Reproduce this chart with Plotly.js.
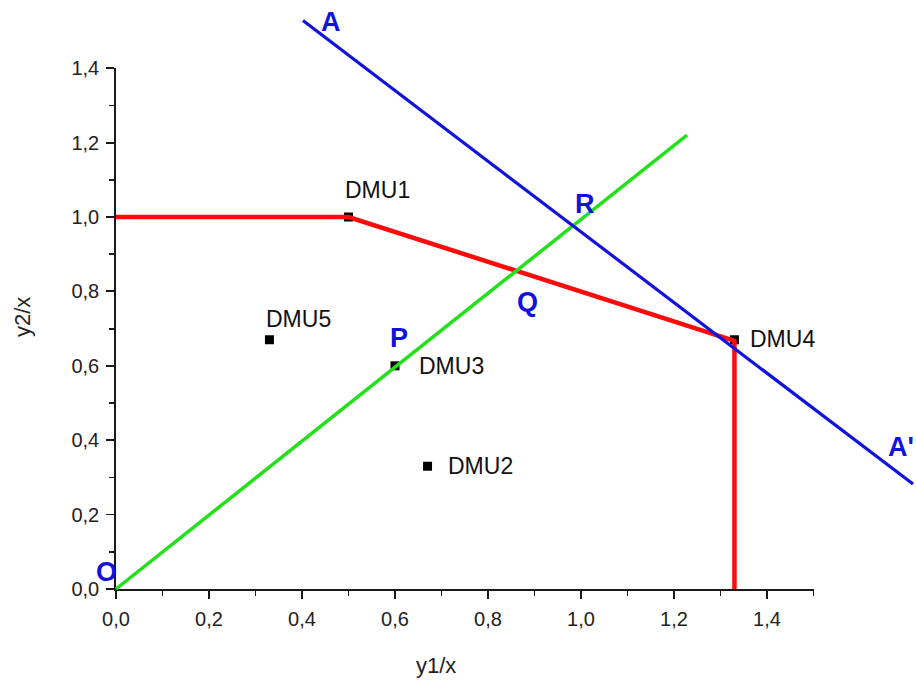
<!DOCTYPE html>
<html>
<head>
<meta charset="utf-8">
<script src="https://cdn.plot.ly/plotly-3.0.1.min.js"></script>
<style>html,body{margin:0;padding:0;background:#fff;}#chart{width:916px;height:681px;}</style>
</head>
<body>
<div id="chart"></div>
<script>
// DMU points
const dmuNames = ["DMU1", "DMU2", "DMU3", "DMU4", "DMU5"];
const dmuX = [0.5, 0.67, 0.6, 1.33, 0.33];
const dmuY = [1.0, 0.33, 0.6, 0.67, 0.67];

// Efficient frontier (red)
const frontierX = [0, 0.5, 1.33, 1.33];
const frontierY = [1.0, 1.0, 0.667, 0];

// Ray from origin (green)
const rayX = [0, 1.228];
const rayY = [0, 1.22];

// Line A-A' (blue)
const lineAX = [0.402, 1.714];
const lineAY = [1.528, 0.282];

// Point labels
const ptLabels = ["A", "R", "Q", "P", "O"];
const ptLabelX = [0.462, 1.008, 0.885, 0.608, -0.02];
const ptLabelY = [1.525, 1.035, 0.772, 0.676, 0.045];

// Tick values
const tickVals = [0, 0.2, 0.4, 0.6, 0.8, 1.0, 1.2, 1.4];
const tickText = ["0,0", "0,2", "0,4", "0,6", "0,8", "1,0", "1,2", "1,4"];

const W = 916, H = 681;
const x0px = 116, sx = 465, y0px = 589, sy = 372;
const xFull = [-x0px / sx, (W - x0px) / sx];
const yFull = [(y0px - H) / sy, y0px / sy];

const fontFam = "Liberation Sans, Arial, sans-serif";
const blue = "#1212de";

const traces = [
  {
    x: dmuX, y: dmuY, type: "scatter", mode: "markers",
    marker: {symbol: "square", size: 9, color: "#000"},
    cliponaxis: false, xaxis: "x", yaxis: "y", hoverinfo: "none"
  },
  {
    x: frontierX, y: frontierY, type: "scatter", mode: "lines",
    line: {color: "#ff0a0a", width: 4.5}, xaxis: "x2", yaxis: "y2", hoverinfo: "none"
  },
  {
    x: rayX, y: rayY, type: "scatter", mode: "lines",
    line: {color: "#22e01a", width: 3.5}, xaxis: "x2", yaxis: "y2", hoverinfo: "none"
  },
  {
    x: lineAX, y: lineAY, type: "scatter", mode: "lines",
    line: {color: blue, width: 3.2}, xaxis: "x2", yaxis: "y2", hoverinfo: "none"
  }
];

const dmuShift = {
  DMU1: [-6, 27], DMU2: [18, 0], DMU3: [22, 0], DMU4: [14, 1], DMU5: [-5, 21]
};
const annotations = [];
dmuNames.forEach((n, i) => {
  annotations.push({
    x: dmuX[i], y: dmuY[i], xref: "x", yref: "y", text: n, showarrow: false,
    xanchor: "left", yanchor: "middle", xshift: dmuShift[n][0], yshift: dmuShift[n][1],
    font: {family: fontFam, size: 23, color: "#111"}
  });
});
ptLabels.forEach((t, i) => {
  annotations.push({
    x: ptLabelX[i], y: ptLabelY[i], xref: "x2", yref: "y2", text: "<b>" + t + "</b>",
    showarrow: false, xanchor: "center", yanchor: "middle",
    font: {family: fontFam, size: 27, color: blue}
  });
});
annotations.push({
  x: 1, y: 1 - 447 / H, xref: "paper", yref: "paper", text: "<b>A'</b>",
  showarrow: false, xanchor: "right", yanchor: "middle",
  font: {family: fontFam, size: 27, color: blue}
});
annotations.push({
  x: 436 / W, y: 1 - 665 / H, xref: "paper", yref: "paper", text: "y1/x",
  showarrow: false, xanchor: "center", yanchor: "middle",
  font: {family: fontFam, size: 22, color: "#222"}
});
annotations.push({
  x: 22 / W, y: 1 - 317 / H, xref: "paper", yref: "paper", text: "y2/x",
  showarrow: false, xanchor: "center", yanchor: "middle", textangle: -90,
  font: {family: fontFam, size: 22, color: "#222"}
});

const axisCommon = {
  showgrid: false, zeroline: false, showline: true, linecolor: "#1a1a1a", linewidth: 1.8,
  ticks: "outside", ticklen: 8, tickwidth: 1.8, tickcolor: "#1a1a1a",
  tickvals: tickVals, ticktext: tickText, ticklabelstandoff: 3,
  tickfont: {family: fontFam, size: 20, color: "#222"},
  minor: {ticks: "outside", ticklen: 5, tickwidth: 1.8, tickcolor: "#1a1a1a", dtick: 0.1, tick0: 0, showgrid: false},
  fixedrange: true
};

const layout = {
  width: W, height: H,
  margin: {l: 0, r: 0, t: 0, b: 0, pad: 0},
  paper_bgcolor: "#fff", plot_bgcolor: "rgba(0,0,0,0)",
  showlegend: false,
  xaxis: Object.assign({}, axisCommon, {
    range: [0, 1.5], domain: [x0px / W, (x0px + 1.5 * sx) / W], anchor: "y"
  }),
  yaxis: Object.assign({}, axisCommon, {
    range: [0, 1.4], domain: [1 - y0px / H, 1 - (y0px - 1.4 * sy) / H], anchor: "x"
  }),
  xaxis2: {range: xFull, domain: [0, 1], visible: false, anchor: "y2", fixedrange: true, showgrid: false, zeroline: false},
  yaxis2: {range: yFull, domain: [0, 1], visible: false, anchor: "x2", fixedrange: true, showgrid: false, zeroline: false},
  annotations: annotations
};

Plotly.newPlot("chart", traces, layout, {staticPlot: true, displayModeBar: false});
</script>
</body>
</html>
